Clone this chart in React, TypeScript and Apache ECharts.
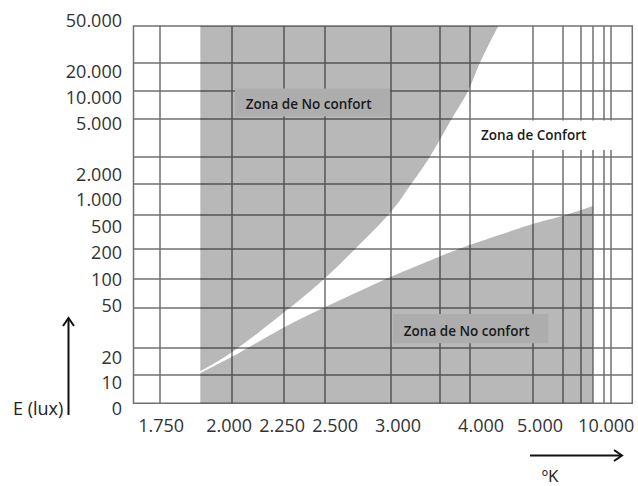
import React, { useEffect, useRef } from 'react';
import * as echarts from 'echarts';

// ---- Non-uniform (hand drawn) axis calibration: grid-line values and their place along the axis (0..1000)
const xGridKelvin = [1650, 1750, 2000, 2250, 2500, 3000, 3500, 4000, 5000, 6000, 7000, 8000, 9000, 10000, 13000];
const xGridPos = [0, 53.5, 197.2, 300.6, 383.2, 515.8, 613.2, 673.3, 800.4, 861.1, 897.2, 920.6, 942.7, 956.9, 1000];
const yGridLux = [0, 10, 20, 50, 100, 200, 500, 1000, 2000, 5000, 10000, 20000, 50000];
const yGridPos = [0, 75, 146, 252, 331, 409, 500, 583, 654, 754, 829, 903, 1000];

// ---- Tick labels
const xTickLabels = ['1.750', '2.000', '2.250', '2.500', '3.000', '4.000', '5.000', '10.000'];
const xTickLabelPos = [55.5, 191.8, 298, 404.2, 530.4, 696.8, 815, 947.7];
const yTickLabels = ['0', '10', '20', '50', '100', '200', '500', '1.000', '2.000', '5.000', '10.000', '20.000', '50.000'];
const yTickLabelPos = [0, 57, 124, 261, 329, 400, 470, 541, 608, 744, 813, 882, 1000];

// ---- Kruithof curves (K, lux)
const upperKelvin = [1890, 2000, 2250, 2500, 2750, 3000, 3216, 3404, 3707, 3983, 4169, 4457];
const upperLux = [11, 18, 45, 100, 215, 530, 1000, 2000, 5000, 10000, 20000, 50000];
const lowerKelvin = [1890, 2000, 2250, 2500, 3000, 3500, 4000, 5000, 6000, 8000];
const lowerLux = [10.5, 16, 32, 51, 104, 167, 222, 389, 484, 606];

function interp(v: number, xs: number[], ps: number[], logSeg: boolean): number {
  for (let i = 0; i < xs.length - 1; i++) {
    if (v <= xs[i + 1] || i === xs.length - 2) {
      let t: number;
      if (logSeg && xs[i] > 0) t = (Math.log(v) - Math.log(xs[i])) / (Math.log(xs[i + 1]) - Math.log(xs[i]));
      else t = (v - xs[i]) / (xs[i + 1] - xs[i]);
      return ps[i] + t * (ps[i + 1] - ps[i]);
    }
  }
  return ps[ps.length - 1];
}
const toX = (k: number) => interp(k, xGridKelvin, xGridPos, false);
const toY = (lux: number) => interp(lux, yGridLux, yGridPos, true);

const FONT = '"Open Sans", "DejaVu Sans", sans-serif';
const LINE = '#707070';
const AREA = 'rgba(20,20,20,0.3)';

export default function App() {
  const ref = useRef<HTMLDivElement>(null);
  useEffect(() => {
    if (!ref.current) return;
    const chart = echarts.init(ref.current, undefined, { renderer: 'svg' });
    const xLines = xGridKelvin.slice(1, -1).map(toX);
    const yLines = yGridLux.slice(1, -1).map(toY);
    const near = (arr: number[], v: number) => {
      let best = 0;
      for (let i = 0; i < arr.length; i++) if (Math.abs(arr[i] - v) < Math.abs(arr[best] - v)) best = i;
      return best;
    };
    const boxText = (text: string, x: number, y: number) => ({
      type: 'text', z: 101, x, y,
      style: { text, fill: '#1a1a1a', fontSize: 13.5, fontWeight: 600, fontFamily: FONT, align: 'center', verticalAlign: 'middle', textAlign: 'center', textVerticalAlign: 'middle' },
    });
    chart.setOption({
      animation: false,
      grid: {
        left: 133.5, right: 5.7, top: 26, bottom: 82.7,
        show: true, borderColor: LINE, borderWidth: 1.5, backgroundColor: 'transparent',
        outerBoundsMode: 'none',
      },
      xAxis: {
        type: 'value', min: 0, max: 1000,
        axisLine: { show: false },
        axisTick: { show: false, customValues: xLines },
        splitLine: { show: true, lineStyle: { color: LINE, width: 1.5 } },
        axisLabel: {
          customValues: xTickLabelPos,
          formatter: (v: number) => xTickLabels[near(xTickLabelPos, v)],
          color: '#333', fontSize: 18, fontFamily: FONT, margin: 13,
        },
      },
      yAxis: {
        type: 'value', min: 0, max: 1000,
        axisLine: { show: false },
        axisTick: { show: false, customValues: yLines },
        splitLine: { show: true, lineStyle: { color: LINE, width: 1.5 } },
        axisLabel: {
          customValues: yTickLabelPos,
          formatter: (v: number) => {
            const i = near(yTickLabelPos, v);
            const style = i === 0 ? 'lo' : i === yTickLabels.length - 1 ? 'hi' : 'n';
            return '{' + style + '|' + yTickLabels[i] + '}';
          },
          margin: 11.5,
          rich: {
            n: { color: '#333', fontSize: 18, fontFamily: FONT },
            lo: { color: '#333', fontSize: 18, fontFamily: FONT, padding: [10, 0, 0, 0] },
            hi: { color: '#333', fontSize: 18, fontFamily: FONT, padding: [0, 0, 12, 0] },
          },
        },
      },
      series: [
        {
          type: 'line', silent: true, symbol: 'none', smooth: 0.2,
          data: lowerKelvin.map((k, i) => [toX(k), toY(lowerLux[i])]),
          lineStyle: { width: 0, opacity: 0 },
          areaStyle: { color: AREA, origin: 'start', opacity: 1 },
        },
        {
          type: 'line', silent: true, symbol: 'none', smooth: 0.4,
          data: upperKelvin.map((k, i) => [toX(k), toY(upperLux[i])]),
          lineStyle: { width: 0, opacity: 0 },
          areaStyle: { color: AREA, origin: 'end', opacity: 1 },
        },
      ],
      graphic: [
        { type: 'rect', z: 100, shape: { x: 235, y: 88.5, width: 155, height: 28 }, style: { fill: '#adadad' } },
        boxText('Zona de No confort', 308.7, 104),
        { type: 'rect', z: 100, shape: { x: 471, y: 120.5, width: 160, height: 29.5 }, style: { fill: '#ffffff' } },
        boxText('Zona de Confort', 533.7, 135),
        { type: 'rect', z: 100, shape: { x: 393.3, y: 314, width: 155, height: 29.3 }, style: { fill: '#adadad' } },
        boxText('Zona de No confort', 466.7, 330.7),
        // y-axis arrow and title
        { type: 'line', z: 100, shape: { x1: 68.5, y1: 415, x2: 68.5, y2: 318 }, style: { stroke: '#111', lineWidth: 2 } },
        { type: 'polyline', z: 100, shape: { points: [[63, 326], [68.5, 318], [74, 326]] }, style: { stroke: '#111', lineWidth: 2, fill: 'none' } },
        { type: 'text', z: 101, x: 13, y: 408, style: { text: 'E (lux)', fill: '#222', fontSize: 18, fontFamily: FONT, align: 'left', verticalAlign: 'middle', textAlign: 'left', textVerticalAlign: 'middle' } },
        // x-axis arrow and title
        { type: 'line', z: 100, shape: { x1: 530, y1: 455.5, x2: 622, y2: 455.5 }, style: { stroke: '#111', lineWidth: 2 } },
        { type: 'polyline', z: 100, shape: { points: [[614, 450], [622, 455.5], [614, 461]] }, style: { stroke: '#111', lineWidth: 2, fill: 'none' } },
        { type: 'text', z: 101, x: 550, y: 475, style: { text: 'ºK', fill: '#222', fontSize: 17, fontFamily: FONT, align: 'center', verticalAlign: 'middle', textAlign: 'center', textVerticalAlign: 'middle' } },
      ],
    });
    return () => chart.dispose();
  }, []);
  return <div ref={ref} style={{ position: 'absolute', left: 0, top: 0, width: 638, height: 486 }} />;
}
